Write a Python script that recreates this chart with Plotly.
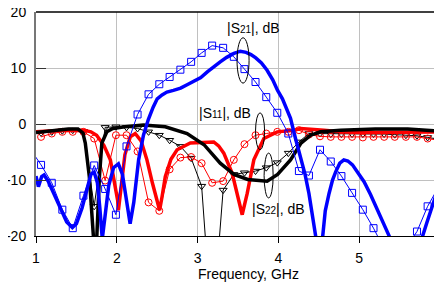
import plotly.graph_objects as go

# ---------------- data ----------------
# measured (thin, with markers) frequency grid, GHz
f_meas = [1.0625, 1.195, 1.326, 1.455, 1.587, 1.72, 1.856, 1.989, 2.12, 2.257,
          2.393, 2.526, 2.654, 2.787, 2.92, 3.05, 3.18, 3.316, 3.448, 3.58,
          3.717, 3.85, 3.986, 4.123, 4.254, 4.378, 4.515, 4.648, 4.78, 4.912,
          5.045, 5.177, 5.309, 5.44, 5.578, 5.715, 5.847, 5.979]

s21_meas_f = [0.93] + f_meas + [6.11]
s21_meas = [-4.5, -7.3, -10.5, -15.3, -18.6, -12.8, -7.4, -11.6, -16.2, -4.0, 1.7,
            5.3, 7.1, 8.4, 9.7, 11.1, 12.7, 14.0, 13.6, 12.0, 9.8,
            7.5, 4.8, 2.0, -1.7, -8.4, -9.2, -4.6, -6.7, -9.3, -12.3,
            -15.3, -18.6, -22.3, -25.0, -22.0, -19.2, -14.7, -11.3, -8.5]

s11_meas = [-2.3, -1.7, -1.4, -1.4, -1.4, -2.6, -10.1, -2.0, -2.0, -4.9,
            -14.0, -15.5, -8.1, -6.0, -5.9, -7.0, -10.5, -10.2, -6.4, -3.6,
            -2.0, -1.7, -1.4, -1.4, -1.1, -1.9, -2.2, -2.3, -2.3, -2.3,
            -2.4, -2.3, -2.3, -2.3, -2.3, -2.3, -2.6, -2.9]

s22_meas = [-1.6, -1.4, -1.2, -1.1, -1.3, -14.7, -0.6, -0.5, -0.6, -0.8,
            -1.4, -2.0, -2.9, -4.0, -6.1, -11.1, -37.0, -11.8, -9.0, -8.7,
            -8.4, -7.8, -6.9, -5.2, -3.2, -1.7, -1.7, -1.8, -1.8, -1.8,
            -1.8, -1.8, -1.8, -1.9, -2.0, -2.1, -2.4, -2.7]

# simulated (thick) curves
s21_sim_f = [1.00, 1.03, 1.07, 1.10, 1.15, 1.22, 1.30, 1.38, 1.45, 1.50, 1.57,
             1.63, 1.68, 1.72, 1.76, 1.79, 1.82, 1.85, 1.90, 1.96, 2.02, 2.07,
             2.12, 2.165, 2.21, 2.27, 2.33, 2.39, 2.45, 2.50, 2.56, 2.62, 2.70,
             2.79, 2.87, 2.95, 3.04, 3.12, 3.20, 3.28, 3.36, 3.45, 3.53, 3.60,
             3.66, 3.72, 3.79, 3.86, 3.93, 3.99, 4.05, 4.11, 4.15, 4.21, 4.275,
             4.33, 4.378, 4.43, 4.461, 4.50, 4.545, 4.58, 4.627, 4.67, 4.71,
             4.76, 4.81, 4.86, 4.917, 4.99, 5.06, 5.14, 5.227, 5.30, 5.371,
             5.45, 5.55, 5.68, 5.785, 5.84, 5.888, 5.94, 5.991, 6.0]
s21_sim = [-9.3, -11.2, -9.4, -9.1, -10.2, -12.5, -15.2, -17.5, -18.5, -17.8, -15.0,
           -11.5, -9.0, -8.6, -10.5, -15.0, -20.5, -17.0, -11.0, -7.8, -7.1, -9.0,
           -13.5, -17.8, -14.0, -6.4, -2.0, 0.8, 3.0, 4.5, 5.2, 5.7, 6.0,
           6.4, 7.0, 7.6, 8.3, 9.3, 10.3, 11.1, 11.9, 12.6, 13.0, 12.8,
           12.4, 11.8, 10.9, 9.6, 7.9, 6.0, 4.5, 2.3, 1.0, -2.5, -5.8,
           -9.0, -12.4, -17.0, -20.0, -27.0, -20.0, -15.5, -12.4, -10.0, -8.5,
           -7.0, -6.4, -6.6, -7.3, -8.7, -10.3, -12.6, -15.4, -17.8, -20.0,
           -24.0, -28.0, -27.0, -20.0, -17.5, -15.4, -13.0, -10.9, -10.5]

s11_sim_f = [1.00, 1.15, 1.34, 1.59, 1.68, 1.75, 1.84, 1.92, 1.97, 2.01, 2.02,
             2.05, 2.10, 2.166, 2.228, 2.30, 2.373, 2.44, 2.50, 2.53, 2.56, 2.60,
             2.67, 2.746, 2.91, 3.118, 3.20, 3.26, 3.324, 3.428, 3.51, 3.552,
             3.614, 3.696, 3.82, 3.986, 4.19, 4.275, 4.565, 4.77, 5.0, 5.5, 6.0]
s11_sim = [-1.4, -1.2, -1.1, -1.1, -1.4, -2.0, -3.8, -6.4, -10.0, -13.6, -15.4,
           -11.8, -5.5, -2.3, -1.7, -3.0, -6.4, -10.5, -13.6, -15.4, -13.0, -9.4,
           -6.3, -4.6, -3.4, -3.2, -3.2, -3.9, -5.2, -8.8, -13.6, -16.2,
           -12.4, -6.4, -2.6, -1.4, -1.1, -0.8, -1.1, -1.4, -1.5, -1.5, -1.4]

s22_sim_f = [1.00, 1.20, 1.40, 1.52, 1.58, 1.61, 1.66, 1.71, 1.735, 1.753, 1.785,
             1.815, 1.877, 1.95, 2.10, 2.33, 2.60, 2.87, 3.08, 3.28, 3.45, 3.62,
             3.86, 3.99, 4.15, 4.28, 4.40, 4.52, 4.77, 5.20, 5.60, 6.00]
s22_sim = [-1.5, -1.2, -0.9, -0.9, -1.6, -3.4, -9.4, -20.0, -30.0, -20.0, -9.4,
           -3.4, -1.4, -0.8, -0.5, -0.2, -0.5, -1.7, -3.7, -7.0, -9.0, -9.9,
           -10.2, -9.0, -6.4, -3.4, -2.0, -1.4, -1.1, -0.9, -0.9, -1.3]

x_ticks = [1, 2, 3, 4, 5, 6]
y_ticks = [-20, -10, 0, 10, 20]
y_tick_text = ["-20", "-10", "0", "10", "20"]

BLUE = "#0000ff"
RED = "#ff0000"
BLACK = "#000000"
FONT = "Arial, Liberation Sans, sans-serif"

fig = go.Figure()

fig.add_trace(go.Scatter(x=f_meas, y=s22_meas, mode="lines+markers",
                         line=dict(color=BLACK, width=1),
                         marker=dict(symbol="triangle-down-open", size=7, color=BLACK,
                                     line=dict(width=1))))
fig.add_trace(go.Scatter(x=f_meas, y=s11_meas, mode="lines+markers",
                         line=dict(color=RED, width=1),
                         marker=dict(symbol="circle-open", size=7, color=RED,
                                     line=dict(width=1))))
fig.add_trace(go.Scatter(x=s11_sim_f, y=s11_sim, mode="lines",
                         line=dict(color=RED, width=3.5)))
fig.add_trace(go.Scatter(x=s22_sim_f, y=s22_sim, mode="lines",
                         line=dict(color=BLACK, width=3.5)))
fig.add_trace(go.Scatter(x=s21_meas_f, y=s21_meas, mode="lines+markers",
                         line=dict(color=BLUE, width=1),
                         marker=dict(symbol="square-open", size=7, color=BLUE,
                                     line=dict(width=1))))
fig.add_trace(go.Scatter(x=s21_sim_f, y=s21_sim, mode="lines",
                         line=dict(color=BLUE, width=3.5)))
fig.add_trace(go.Scatter(x=[6.0], y=[-1.7], mode="markers", cliponaxis=False,
                         marker=dict(symbol="square", size=5, color="#ff00ff")))

# the page body adds an 8px margin, so the figure margins are reduced by 8px
fig.update_layout(
    width=442, height=286,
    margin=dict(l=28, r=10, t=4, b=58),
    paper_bgcolor="white", plot_bgcolor="white",
    showlegend=False,
    font=dict(family=FONT, size=14, color="black"),
    xaxis=dict(range=[1, 6], tickvals=x_ticks, ticks="outside", ticklen=6,
               tickcolor="black", showgrid=True, gridcolor="#c0c0c0", gridwidth=1,
               showline=True, linecolor="black", linewidth=1, zeroline=False,
               tickfont=dict(size=14), ticklabelstandoff=3,
               automargin=False, ticklabeloverflow="allow"),
    yaxis=dict(range=[-20, 20], tickvals=y_ticks, ticktext=y_tick_text,
               ticks="inside", ticklen=10,
               tickcolor="#333333", showgrid=True, gridcolor="#c0c0c0", gridwidth=1,
               showline=True, linecolor="#777777", linewidth=2, zeroline=False,
               tickfont=dict(size=14), ticklabelstandoff=5,
               automargin=False, ticklabeloverflow="allow"),
)

# top and right border
fig.add_shape(type="line", xref="paper", yref="paper", x0=0, x1=1, y0=1, y1=1,
              line=dict(color="black", width=1.5))
fig.add_shape(type="line", xref="paper", yref="paper", x0=1, x1=1, y0=0, y1=1,
              line=dict(color="black", width=1.5))

# ellipses
for (x0, x1, y0, y1) in [(3.488, 3.637, 7.3, 15.4),
                         (3.717, 3.829, -4.6, 2.0),
                         (3.823, 3.935, -13.2, -5.2)]:
    fig.add_shape(type="circle", xref="x", yref="y", x0=x0, x1=x1, y0=y0, y1=y1,
                  line=dict(color="black", width=1))

sub = "<span style='font-size:10px'>%s</span>"
labels = [("|S" + sub % "21" + "|, dB", 3.69, 17.2),
          ("|S" + sub % "11" + "|, dB", 3.345, 2.05),
          ("|S" + sub % "22" + "|, dB", 4.0, -15.1)]
for txt, x, y in labels:
    fig.add_annotation(x=x, y=y, xref="x", yref="y", text=txt, showarrow=False,
                       font=dict(size=14, family=FONT, color="black"),
                       bgcolor="rgba(0,0,0,0)")

fig.add_annotation(x=(248.5 - 36) / 404, y=-38 / 224, xref="paper", yref="paper",
                   yanchor="middle", text="Frequency, GHz", showarrow=False,
                   font=dict(size=14, family=FONT, color="black"))

fig.write_html("out.html")
